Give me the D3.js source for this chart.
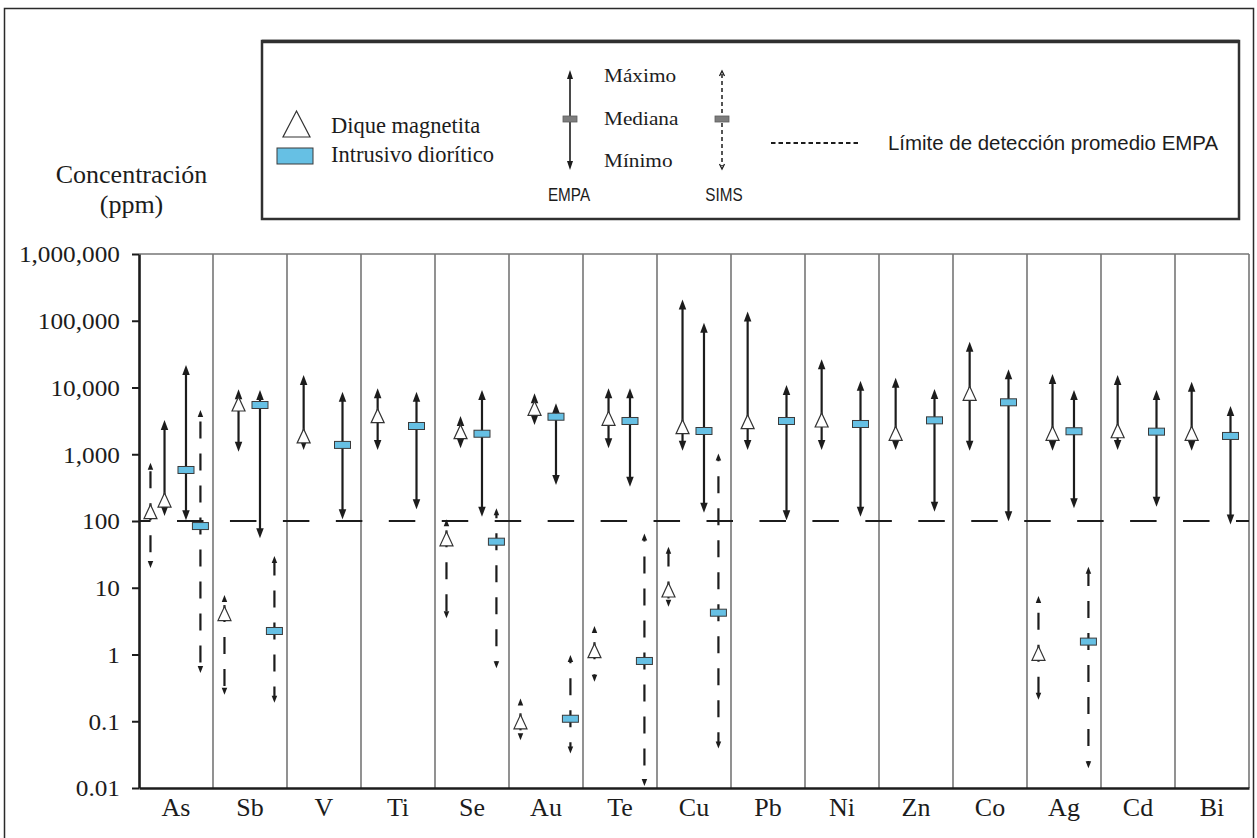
<!DOCTYPE html>
<html>
<head>
<meta charset="utf-8">
<script src="https://cdn.jsdelivr.net/npm/d3@7"></script>
<style>
  html, body { margin: 0; padding: 0; background: #fff; }
  svg { display: block; }
</style>
</head>
<body>
<svg id="chart" width="1257" height="838"></svg>
<script>
// Elements on the horizontal axis
const categories = ["As", "Sb", "V", "Ti", "Se", "Au", "Te", "Cu", "Pb", "Ni", "Zn", "Co", "Ag", "Cd", "Bi"];

// Each entry: [mínimo, mediana, máximo] in ppm, null where no data exists
const dikeEmpa = [
  [119, 206, 3260], [1090, 5660, 9400], [1160, 1880, 15400], [1160, 3780, 9730],
  [1230, 2180, 3740], [2740, 4880, 8180], [1230, 3450, 9730], [1130, 2590, 209000],
  [1160, 3080, 137000], [1160, 3260, 26400], [1160, 2060, 14000], [1130, 8180, 48600],
  [1130, 2060, 15900], [1160, 2250, 15400], [1130, 2060, 12200]
];
const dioriteEmpa = [
  [103, 581, 21700], [55, 5470, 9180], [106, 1380, 8650], [150, 2650, 8650],
  [116, 2030, 9180], [346, 3650, 5800], [327, 3150, 9730], [133, 2230, 93500],
  [103, 3150, 10900], [116, 2840, 12600], [138, 3220, 9500], [99, 6000, 18700],
  [155, 2210, 9180], [164, 2180, 9180], [89, 1880, 5280]
];
const dikeSims = [
  [19.8, 138, 747], [0.25, 4.1, 7.8], null, null,
  [3.5, 54, 106], [0.052, 0.098, 0.22], [0.39, 1.14, 2.67], [5.2, 9.25, 41],
  null, null, null, null,
  [0.21, 1.04, 7.5], null, null
];
const dioriteSims = [
  [0.53, 84, 4600], [0.19, 2.25, 30], null, null,
  [0.62, 49, 155], [0.033, 0.109, 0.98], [0.0107, 0.8, 65], [0.039, 4.23, 1030],
  null, null, null, null,
  [0.0197, 1.56, 20.7], null, null
];

// Average EMPA detection limit (ppm)
const detectionLimit = 100;

// Vertical axis ticks
const yTickValues = [1e6, 1e5, 1e4, 1e3, 100, 10, 1, 0.1, 0.01];
const yTickLabels = ["1,000,000", "100,000", "10,000", "1,000", "100", "10", "1", "0.1", "0.01"];

// ---------------------------------------------------------------------------
const svg = d3.select("#chart");
const SERIF = "'Liberation Serif', 'Times New Roman', serif";
const SANS = "'Liberation Sans', Arial, sans-serif";
const INK = "#1c1c1c";
const BLUE = "#66c0e4";
const GRID = "#767676";

const plot = { left: 139, right: 1249, top: 254, bottom: 788 };

const x = d3.scaleBand().domain(categories).range([plot.left, plot.right]).padding(0);
const y = d3.scaleLog().domain([0.01, 1e6]).range([plot.bottom, plot.top]);

function addText(g, px, py, str, o) {
  return g.append("text")
    .attr("transform", `translate(${px},${py}) scale(${o.sx || 1},1)`)
    .attr("text-anchor", o.anchor || "start")
    .style("font-family", o.family || SERIF)
    .style("font-size", o.size + "px")
    .attr("fill", o.fill || INK)
    .text(str);
}

// outer frame
svg.append("rect").attr("x", 4.5).attr("y", 8.5).attr("width", 1249).attr("height", 840)
  .attr("fill", "none").attr("stroke", "#2a2a2a").attr("stroke-width", 1.5);

// ---------------- legend ----------------
const lg = svg.append("g");
lg.append("rect").attr("x", 262).attr("y", 41).attr("width", 977).attr("height", 178)
  .attr("fill", "#fff").attr("stroke", "#303030").attr("stroke-width", 2.5);
lg.append("line").attr("x1", 262).attr("x2", 1239).attr("y1", 41.5).attr("y2", 41.5)
  .attr("stroke", "#303030").attr("stroke-width", 3.5);

function trianglePath(cx, cy, w, h) {
  return `M${cx},${cy - h / 2}L${cx + w / 2},${cy + h / 2}L${cx - w / 2},${cy + h / 2}Z`;
}
lg.append("path").attr("d", trianglePath(296.5, 124, 27, 26))
  .attr("fill", "#fff").attr("stroke", "#333").attr("stroke-width", 1.2);
lg.append("rect").attr("x", 277).attr("y", 148).attr("width", 36).attr("height", 16)
  .attr("fill", BLUE).attr("stroke", "#3a3a3a").attr("stroke-width", 1);
addText(lg, 331, 133, "Dique magnetita", { size: 22.5 });
addText(lg, 331, 162, "Intrusivo diorítico", { size: 22.5 });

function arrowHead(g, cx, tipY, dir, w, len, open) {
  // dir = -1 points up, +1 points down
  const b = tipY - dir * len;
  const p = g.append("path")
    .attr("d", open
      ? `M${cx - w / 2},${b}L${cx},${tipY}L${cx + w / 2},${b}`
      : `M${cx},${tipY}L${cx + w / 2},${b}L${cx - w / 2},${b}Z`);
  if (open) p.attr("fill", "none").attr("stroke", INK).attr("stroke-width", 1.3);
  else p.attr("fill", INK).attr("stroke", "none");
}

// EMPA key
lg.append("line").attr("x1", 570).attr("x2", 570).attr("y1", 76).attr("y2", 164)
  .attr("stroke", INK).attr("stroke-width", 1.6);
arrowHead(lg, 570, 70, -1, 6, 9, false);
arrowHead(lg, 570, 170, 1, 6, 9, false);
lg.append("rect").attr("x", 563).attr("y", 116).attr("width", 14).attr("height", 6)
  .attr("fill", "#7d7d7d").attr("stroke", "#5d5d5d").attr("stroke-width", 0.8);
addText(lg, 604, 82, "Máximo", { size: 19, sx: 1.12 });
addText(lg, 604, 125, "Mediana", { size: 19, sx: 1.12 });
addText(lg, 604, 167, "Mínimo", { size: 19, sx: 1.12 });
addText(lg, 569, 201, "EMPA", { size: 18, anchor: "middle", family: SANS, sx: 0.85 });

// SIMS key
lg.append("line").attr("x1", 722).attr("x2", 722).attr("y1", 74).attr("y2", 166)
  .attr("stroke", INK).attr("stroke-width", 1.5).attr("stroke-dasharray", "4 3");
arrowHead(lg, 722, 71, -1, 5, 5, true);
arrowHead(lg, 722, 169, 1, 5, 5, true);
lg.append("rect").attr("x", 715).attr("y", 116).attr("width", 14).attr("height", 6)
  .attr("fill", "#7d7d7d").attr("stroke", "#5d5d5d").attr("stroke-width", 0.8);
addText(lg, 724, 201, "SIMS", { size: 18, anchor: "middle", family: SANS, sx: 0.85 });

// detection-limit key
lg.append("line").attr("x1", 771).attr("x2", 861).attr("y1", 143).attr("y2", 143)
  .attr("stroke", INK).attr("stroke-width", 2).attr("stroke-dasharray", "4.5 3");
lg.append("text").attr("x", 888).attr("y", 150)
  .attr("textLength", 330).attr("lengthAdjust", "spacingAndGlyphs")
  .style("font-family", SANS).style("font-size", "20px").attr("fill", INK)
  .text("Límite de detección promedio EMPA");

// ---------------- axis title ----------------
addText(svg, 131.5, 183, "Concentración", { size: 26, anchor: "middle" });
addText(svg, 131.5, 213, "(ppm)", { size: 26, anchor: "middle" });

// ---------------- plot frame ----------------
const frame = svg.append("g");
frame.append("line").attr("x1", plot.left).attr("x2", plot.right)
  .attr("y1", plot.top).attr("y2", plot.top).attr("stroke", GRID).attr("stroke-width", 1.6);
categories.slice(1).forEach(c => {
  frame.append("line").attr("x1", x(c)).attr("x2", x(c)).attr("y1", plot.top).attr("y2", plot.bottom)
    .attr("stroke", GRID).attr("stroke-width", 1.6);
});
frame.append("line").attr("x1", plot.right).attr("x2", plot.right)
  .attr("y1", plot.top).attr("y2", plot.bottom).attr("stroke", GRID).attr("stroke-width", 1.6);

// detection-limit line
const dlY = y(detectionLimit);
svg.append("line").attr("x1", plot.left).attr("x2", plot.right).attr("y1", dlY).attr("y2", dlY)
  .attr("stroke", INK).attr("stroke-width", 2)
  .attr("stroke-dasharray", "26.5 26.45").attr("stroke-dashoffset", 14.95);

// y axis
const yAxis = svg.append("g").attr("transform", `translate(${plot.left},0)`)
  .call(d3.axisLeft(y).tickValues(yTickValues)
    .tickFormat((d, i) => yTickLabels[i]).tickSize(7).tickSizeOuter(0));
yAxis.select(".domain").attr("stroke", INK).attr("stroke-width", 2.6);
yAxis.selectAll(".tick line").attr("stroke", INK).attr("stroke-width", 2);
yAxis.selectAll(".tick text")
  .attr("x", null).attr("dy", "0.34em")
  .attr("transform", "translate(-19,0) scale(1.1,1)")
  .style("font-family", SERIF).style("font-size", "23px").attr("fill", INK);

// x axis
const xAxis = svg.append("g").attr("transform", `translate(0,${plot.bottom})`)
  .call(d3.axisBottom(x).tickSize(0).tickSizeOuter(0).tickPadding(0));
xAxis.select(".domain").attr("stroke", INK).attr("stroke-width", 2.6);
xAxis.selectAll(".tick text")
  .attr("y", 28).attr("dy", 0)
  .style("font-family", SERIF).style("font-size", "26px").attr("fill", INK);

// ---------------- range markers ----------------
const marks = svg.append("g");

// horizontal position of each series inside its column, as a fraction of the column width
const slotsWithSims = { dikeSims: 0.155, dikeEmpa: 0.345, dioriteEmpa: 0.635, dioriteSims: 0.83 };
const slotsEmpaOnly = { dikeEmpa: 0.225, dioriteEmpa: 0.75 };

function drawRange(cx, vals, dashed) {
  const [vMin, vMed, vMax] = vals;
  const yMin = y(vMin), yMed = y(vMed), yMax = y(vMax);
  const len = dashed ? 7 : 10, w = dashed ? 5.5 : 7.5;
  const seg = (y1, y2) => {
    const l = marks.append("line").attr("x1", cx).attr("x2", cx).attr("y1", y1).attr("y2", y2)
      .attr("stroke", INK).attr("stroke-width", 2.2);
    if (dashed) l.attr("stroke-dasharray", "17 15").attr("stroke-dashoffset", 8.5);
  };
  seg(yMed, yMax + len - 1);
  seg(yMed, yMin - len + 1);
  arrowHead(marks, cx, yMax, -1, w, len, false);
  arrowHead(marks, cx, yMin, 1, w, len, false);
}

function drawTriangle(cx, v) {
  marks.append("path").attr("d", trianglePath(cx, y(v), 13, 14))
    .attr("fill", "#fff").attr("stroke", "#333").attr("stroke-width", 1.2);
}
function drawBox(cx, v) {
  marks.append("rect").attr("x", cx - 8).attr("y", y(v) - 3.5).attr("width", 16).attr("height", 7)
    .attr("fill", BLUE).attr("stroke", "#3a3a3a").attr("stroke-width", 1);
}

categories.forEach((c, i) => {
  const hasSims = dikeSims[i] || dioriteSims[i];
  const slots = hasSims ? slotsWithSims : slotsEmpaOnly;
  const px = key => x(c) + slots[key] * x.bandwidth();
  if (dikeSims[i]) { drawRange(px("dikeSims"), dikeSims[i], true); drawTriangle(px("dikeSims"), dikeSims[i][1]); }
  if (dikeEmpa[i]) { drawRange(px("dikeEmpa"), dikeEmpa[i], false); drawTriangle(px("dikeEmpa"), dikeEmpa[i][1]); }
  if (dioriteEmpa[i]) { drawRange(px("dioriteEmpa"), dioriteEmpa[i], false); drawBox(px("dioriteEmpa"), dioriteEmpa[i][1]); }
  if (dioriteSims[i]) { drawRange(px("dioriteSims"), dioriteSims[i], true); drawBox(px("dioriteSims"), dioriteSims[i][1]); }
});
</script>
</body>
</html>
